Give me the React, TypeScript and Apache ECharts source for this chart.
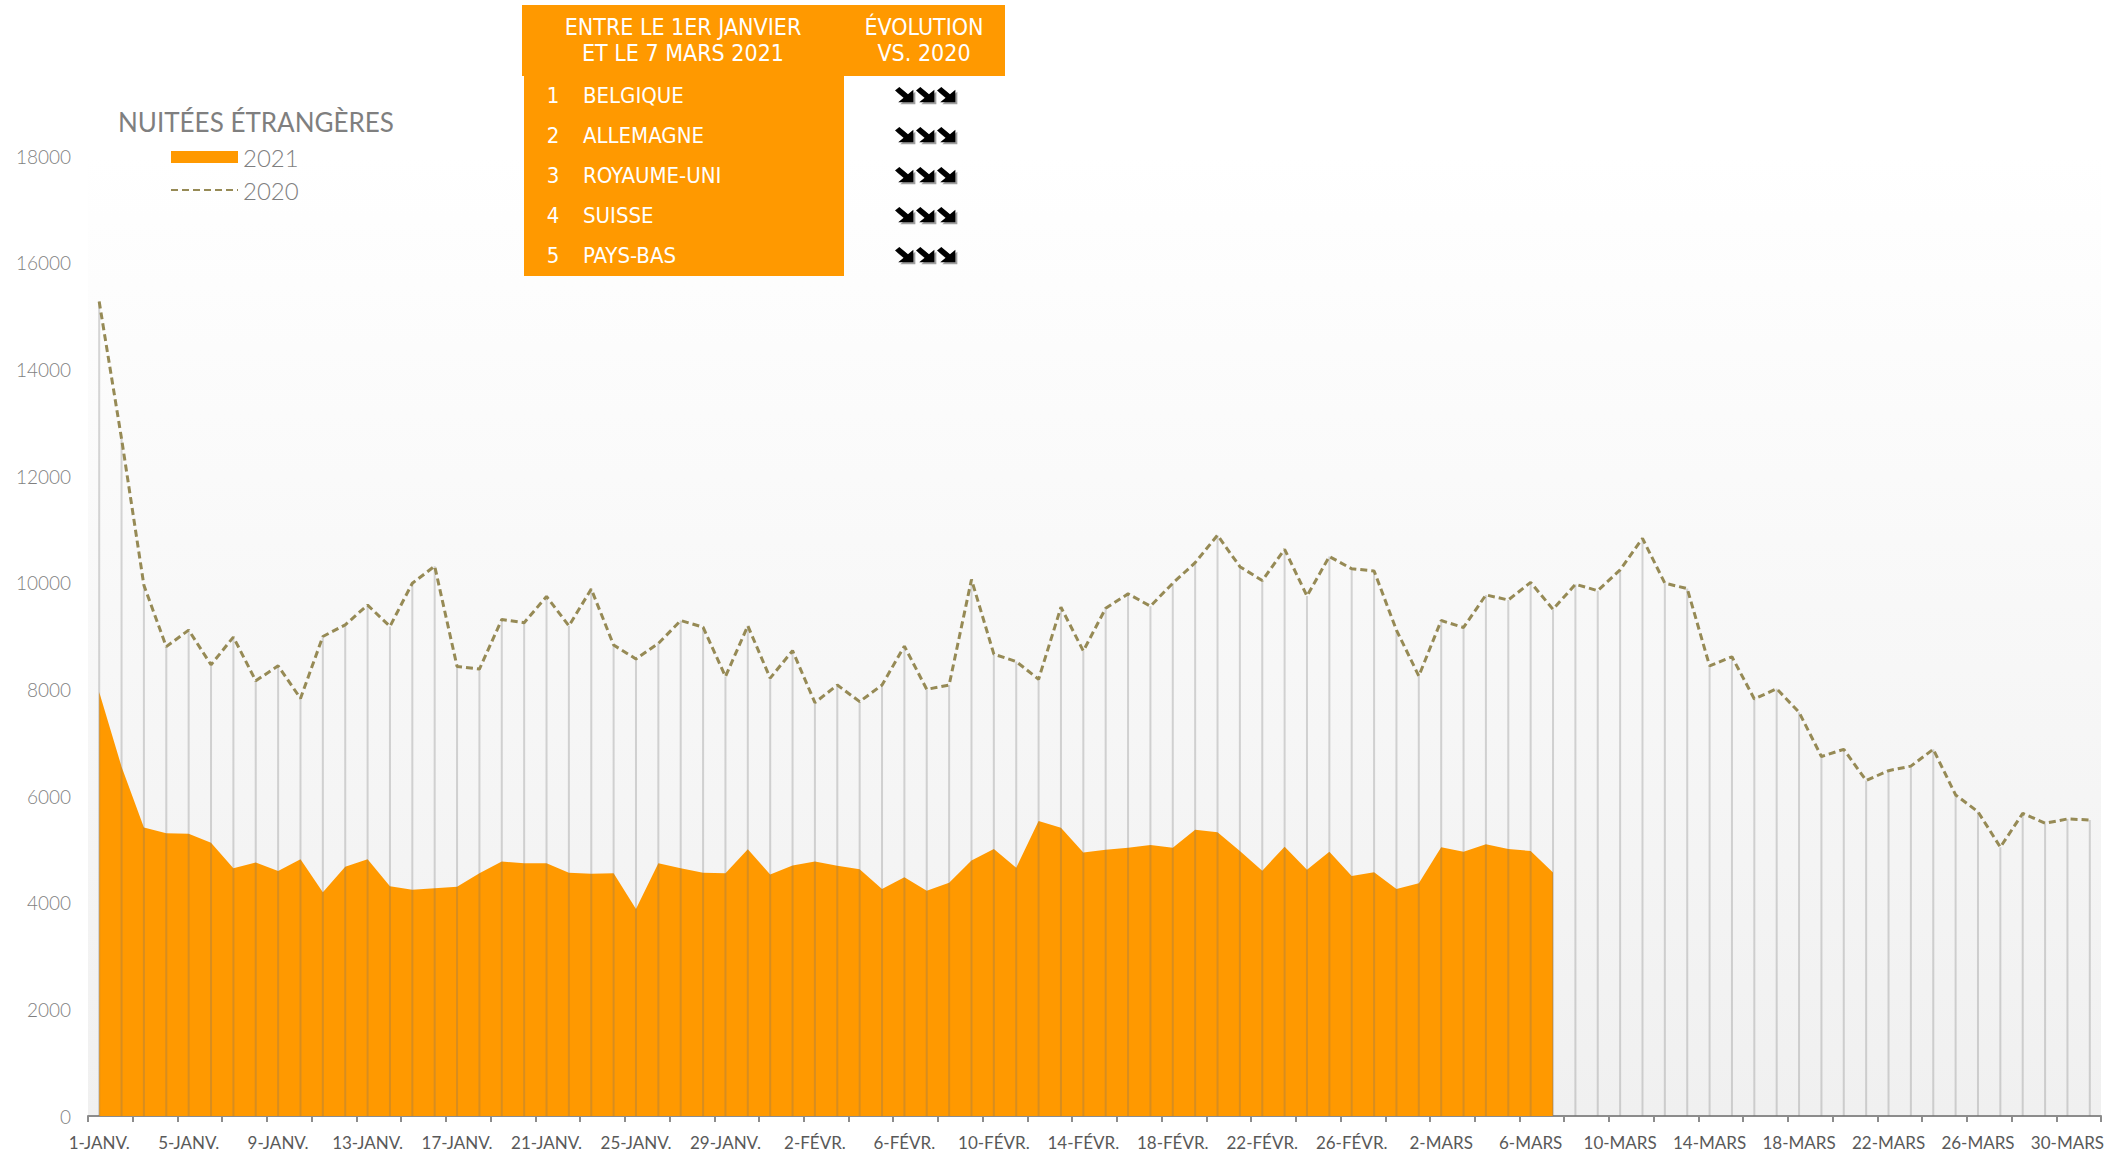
import React, { useEffect, useRef } from "react";
import * as echarts from "echarts";

const MONTHS = ["JANV.", "FÉVR.", "MARS"];
const MONTH_DAYS = [31, 28, 31];
const categories: string[] = [];
MONTHS.forEach((m, i) => {
  for (let d = 1; d <= MONTH_DAYS[i]; d++) categories.push(`${d}-${m}`);
});

const values2020 = [
  15270, 12700, 9950, 8800, 9110, 8460, 8980, 8160, 8440, 7830,
  8990, 9210, 9580, 9180, 9990, 10310, 8430, 8380, 9310, 9250,
  9740, 9190, 9880, 8830, 8570, 8860, 9290, 9165, 8240, 9190,
  8210, 8725, 7750, 8080, 7770, 8080, 8810, 8000, 8080, 10060,
  8660, 8520, 8190, 9540, 8720, 9520, 9790, 9560, 9990, 10375,
  10890, 10300, 10040, 10625, 9750, 10490, 10260, 10220, 9110, 8250,
  9290, 9160, 9770, 9675, 10005, 9500, 9970, 9850, 10240, 10830,
  9990, 9890, 8440, 8610, 7820, 8010, 7570, 6740, 6875, 6290,
  6475, 6560, 6875, 6020, 5705, 5040, 5675, 5490, 5570, 5550,
];

const values2021 = [
  7950, 6550, 5410, 5300, 5290, 5125, 4645, 4755, 4595, 4815,
  4195, 4675, 4815, 4310, 4240, 4270, 4300, 4550, 4770, 4740,
  4740, 4560, 4540, 4550, 3880, 4740, 4645, 4560, 4550, 5000,
  4530, 4695, 4770, 4690, 4625, 4255, 4475, 4225, 4375, 4790,
  5005, 4655, 5530, 5405, 4940, 4990, 5030, 5080, 5030, 5365,
  5320, 4970, 4600, 5050, 4615, 4955, 4500, 4570, 4255, 4365,
  5040, 4955, 5095, 5005, 4970, 4565,
];

const Y_MIN = 0;
const Y_MAX = 18000;
const Y_INTERVAL = 2000;

const seriesNames = ["2021", "2020"];
const legendTitle = "NUITÉES ÉTRANGÈRES";
const tableHeaders = ["ENTRE LE 1ER JANVIER\nET LE 7 MARS 2021", "ÉVOLUTION\nVS. 2020"];
const rankNumbers = ["1", "2", "3", "4", "5"];
const countries = ["BELGIQUE", "ALLEMAGNE", "ROYAUME-UNI", "SUISSE", "PAYS-BAS"];
const downArrowCounts = [3, 3, 3, 3, 3];

const ORANGE = "#ff9900";
const OLIVE = "#968a55";
const NARROW = "'Liberation Sans Narrow', 'DejaVu Sans Condensed', 'Roboto Condensed', sans-serif";
const LIGHT = "Lato, 'Open Sans', sans-serif";

echarts.graphic.registerShape(
  "arrowSE",
  echarts.graphic.extendPath("M0 4 L4 0 L12 8 L17 3 L17 17 L3 17 L8 12 Z", {})
);

export default function App() {
  const ref = useRef<HTMLDivElement>(null);

  useEffect(() => {
    if (!ref.current) return;
    const chart = echarts.init(ref.current, null, { renderer: "svg" });

    const tableGraphics: any[] = [
      { type: "rect", shape: { x: 522, y: 5, width: 483, height: 71 }, style: { fill: ORANGE } },
      { type: "rect", shape: { x: 524, y: 75, width: 320, height: 201 }, style: { fill: ORANGE } },
      {
        type: "text", x: 683, y: 40,
        style: { text: tableHeaders[0], fill: "#fff", font: `23px ${NARROW}`, align: "center", verticalAlign: "middle", lineHeight: 26 },
      },
      {
        type: "text", x: 924, y: 40,
        style: { text: tableHeaders[1], fill: "#fff", font: `23px ${NARROW}`, align: "center", verticalAlign: "middle", lineHeight: 26 },
      },
    ];
    countries.forEach((c, i) => {
      const y = 95 + i * 40;
      tableGraphics.push(
        { type: "text", x: 553, y, style: { text: rankNumbers[i], fill: "#fff", font: `22px ${NARROW}`, align: "center", verticalAlign: "middle" } },
        { type: "text", x: 583, y, style: { text: c, fill: "#fff", font: `22px ${NARROW}`, align: "left", verticalAlign: "middle" } },
      );
      for (let k = 0; k < downArrowCounts[i]; k++) {
        const ax = 895 + k * 21;
        const ay = y - 8;
        tableGraphics.push(
          { type: "arrowSE", x: ax + 2, y: ay + 2, scaleX: 1.08, scaleY: 0.9, style: { fill: "#a0a0a0" } },
          { type: "arrowSE", x: ax, y: ay, scaleX: 1.08, scaleY: 0.9, style: { fill: "#000" } },
        );
      }
    });

    chart.setOption({
      animation: false,
      backgroundColor: "#ffffff",
      title: {
        text: legendTitle,
        left: 113,
        top: 104,
        textStyle: { fontSize: 26, color: "#7f7f7f", fontFamily: LIGHT, fontWeight: "normal" },
      },
      legend: {
        orient: "vertical",
        left: 165,
        top: 140,
        itemWidth: 67,
        itemHeight: 12,
        itemGap: 9,
        selectedMode: false,
        data: [
          { name: seriesNames[0], icon: "rect" },
          { name: seriesNames[1], itemStyle: { color: "rgba(0,0,0,0)", borderColor: "rgba(0,0,0,0)", borderWidth: 0 } },
        ],
        textStyle: { fontSize: 24, color: "#7f7f7f", fontFamily: LIGHT, fontWeight: 300 },
      },
      grid: {
        left: 88,
        right: 21,
        top: 156,
        bottom: 38,
        show: true,
        borderWidth: 0,
        backgroundColor: new echarts.graphic.LinearGradient(0, 0, 0, 1, [
          { offset: 0, color: "#ffffff" },
          { offset: 1, color: "#f0f0f0" },
        ]),
      },
      xAxis: {
        type: "category",
        data: categories,
        boundaryGap: true,
        axisLine: { show: true, lineStyle: { color: "#8c8c8c", width: 2 } },
        axisTick: { show: true, interval: 1, length: 6, lineStyle: { color: "#8c8c8c", width: 2 } },
        axisLabel: {
          interval: 3,
          margin: 18,
          color: "#595959",
          fontSize: 17,
          fontFamily: LIGHT,
        },
        splitLine: { show: false },
      },
      yAxis: {
        type: "value",
        min: Y_MIN,
        max: Y_MAX,
        interval: Y_INTERVAL,
        axisLine: { show: false },
        axisTick: { show: false },
        splitLine: { show: false },
        axisLabel: {
          margin: 17,
          color: "#7f7f7f",
          fontSize: 19,
          fontWeight: 300,
          fontFamily: LIGHT,
          formatter: (v: number) => String(v),
        },
      },
      series: [
        {
          name: seriesNames[0],
          type: "line",
          data: values2021,
          symbol: "none",
          z: 1,
          lineStyle: { width: 0, color: ORANGE },
          itemStyle: { color: ORANGE },
          areaStyle: { color: ORANGE, opacity: 1 },
        },
        {
          name: "drop",
          type: "bar",
          data: values2020,
          barWidth: 2,
          z: 2,
          itemStyle: { color: "rgba(110,110,110,0.28)" },
        },
        {
          name: seriesNames[1],
          type: "line",
          data: values2020,
          symbol: "none",
          z: 3,
          itemStyle: { color: OLIVE },
          lineStyle: { color: OLIVE, width: 3, type: [7, 4] },
        },
      ],
      graphic: tableGraphics,
    });

    return () => chart.dispose();
  }, []);

  return (
    <div
      ref={ref}
      style={{ position: "fixed", left: 0, top: 0, width: 2122, height: 1154 }}
    />
  );
}
